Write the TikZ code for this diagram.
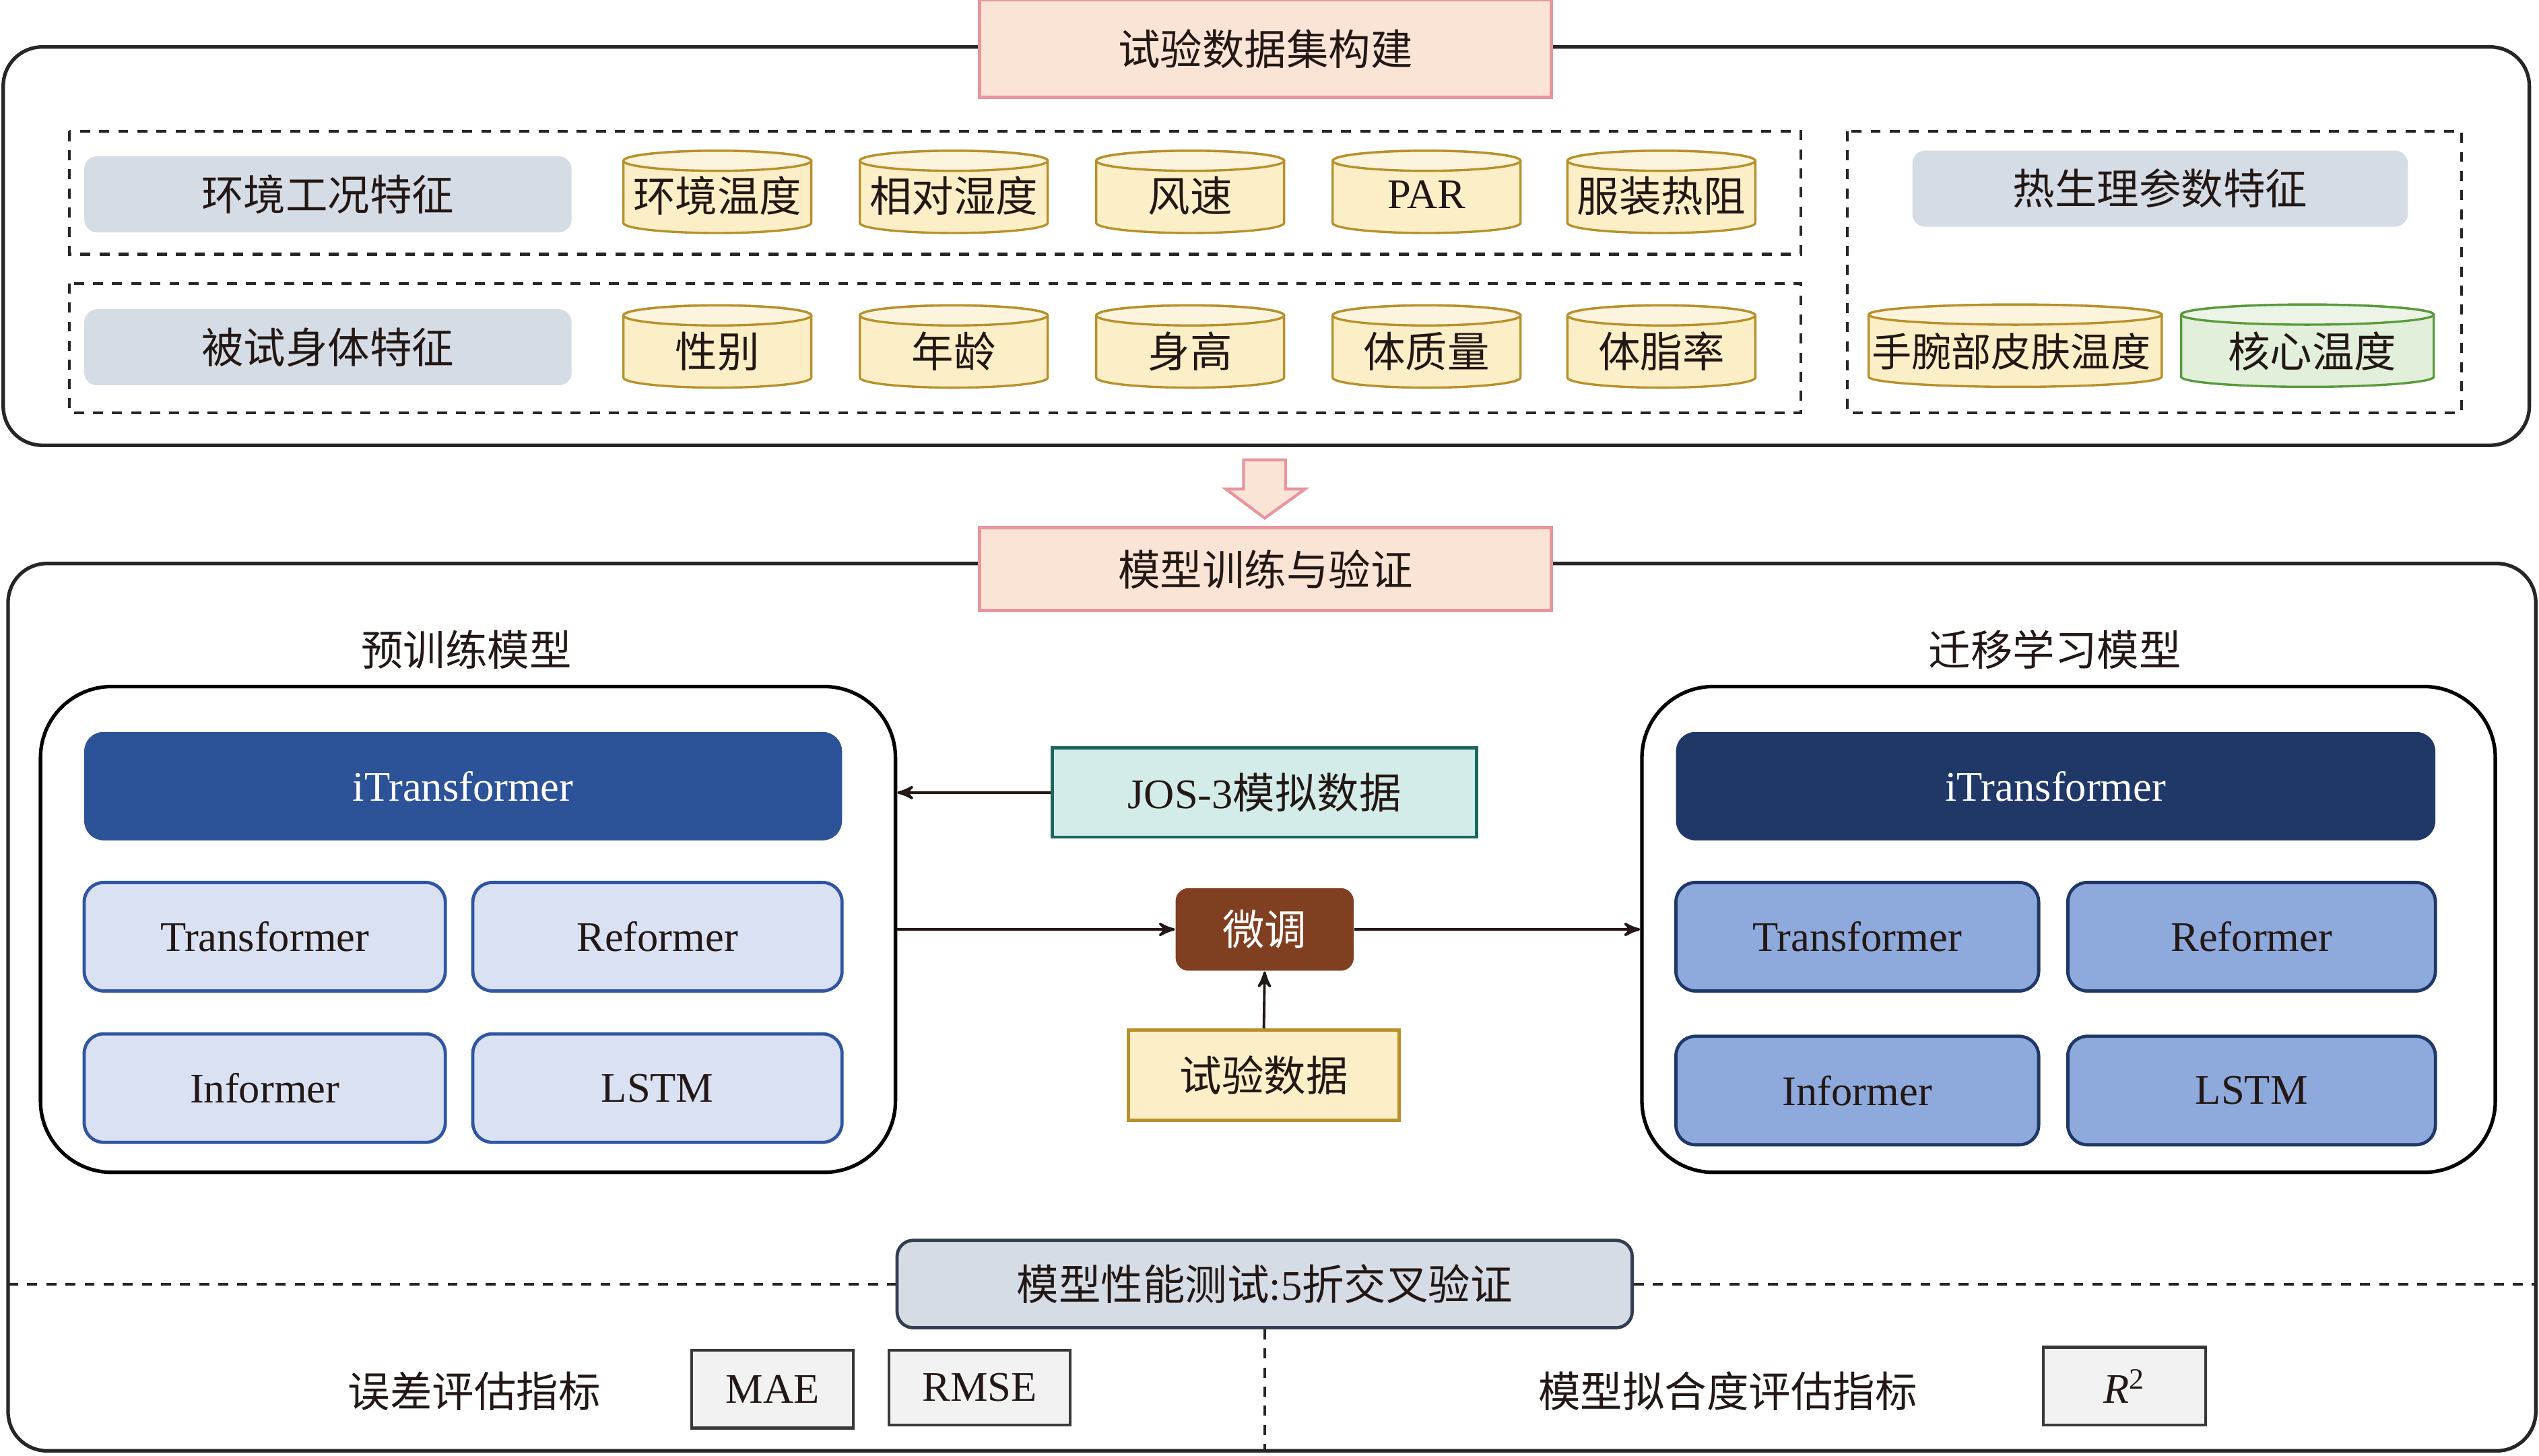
\documentclass[tikz,border=0pt]{standalone}
\usepackage{fontspec}
\setmainfont{Liberation Serif}
\newfontfamily\zh{Noto Sans CJK SC}
\usetikzlibrary{positioning,shapes,arrows}
\definecolor{ink}{HTML}{231815}
\definecolor{framec}{HTML}{262626}
\definecolor{pinkbg}{HTML}{FAE4D6}
\definecolor{pinkln}{HTML}{E8959E}
\definecolor{grayfill}{HTML}{D6DCE5}
\definecolor{drumbody}{HTML}{FCEFC8}
\definecolor{drumtop}{HTML}{FDF4DE}
\definecolor{gold}{HTML}{B8902A}
\definecolor{greenbody}{HTML}{E2EFDA}
\definecolor{greentop}{HTML}{EBF4E6}
\definecolor{greenln}{HTML}{5A9A3C}
\definecolor{blueA}{HTML}{2C5297}
\definecolor{navy}{HTML}{1F3868}
\definecolor{paleblue}{HTML}{DAE1F3}
\definecolor{blueln}{HTML}{2F55A3}
\definecolor{midblue}{HTML}{8EA9DB}
\definecolor{tealbg}{HTML}{D4ECE9}
\definecolor{tealln}{HTML}{1B675B}
\definecolor{rust}{HTML}{7F3F20}
\definecolor{slate}{HTML}{333F50}
\definecolor{metricbg}{HTML}{F2F2F2}
\definecolor{metricln}{HTML}{3B3838}
\newcommand\drum[5]{%
  \begin{scope}[shift={#1}]
    \filldraw[draw=#3,fill=#4,line width=0.7pt] (-#2,9.6pt) -- (-#2,-9.6pt)
      arc[start angle=180,end angle=360,x radius=#2,y radius=3.1pt] -- (#2,9.6pt)
      arc[start angle=0,end angle=180,x radius=#2,y radius=3.1pt] -- cycle;
    \filldraw[draw=#3,fill=#5,line width=0.7pt] (0pt,9.6pt) ellipse[x radius=#2,y radius=3.1pt];
  \end{scope}}
\begin{document}
\begin{tikzpicture}[x=0.5pt,y=-0.5pt]
  \tikzstyle{every node}=[font=\fontsize{13}{15}\selectfont,text=ink,inner sep=0]
  \tikzstyle{cn}=[font=\fontsize{13}{15}\selectfont\zh]
  \tikzstyle{frame}=[draw=framec,line width=1.1pt,rounded corners=12pt]
  \tikzstyle{title}=[draw=pinkln,fill=pinkbg,line width=1pt,minimum width=176.5pt,minimum height=30pt]
  \tikzstyle{dashbox}=[draw=framec,line width=0.85pt,dash pattern=on 3.1pt off 2.8pt]
  \tikzstyle{feat}=[fill=grayfill,rounded corners=4pt,minimum width=150.5pt,minimum height=23.5pt]
  \tikzstyle{holder}=[draw=black,line width=1.1pt,rounded corners=22pt,minimum width=264pt,minimum height=150pt]
  \tikzstyle{big}=[rounded corners=6pt,minimum width=234pt,minimum height=33.5pt,text=white]
  \tikzstyle{small}=[rounded corners=6pt,line width=1pt,minimum width=111.5pt,minimum height=33.5pt]
  \tikzstyle{metric}=[draw=metricln,fill=metricbg,line width=0.9pt,minimum width=50pt,minimum height=24pt]
  \tikzstyle{link}=[->,>=stealth',line width=0.8pt,draw=ink]
  \useasboundingbox (0,0) rectangle (1568,899);

  \draw[frame] (2,29) rectangle (1562,275);
  \node[title,cn] (build) at (781.5,30) {试验数据集构建};

  \draw[dashbox] (43,81) rectangle (1112,157);
  \draw[dashbox] (43,175) rectangle (1112,255);
  \draw[dashbox] (1141,81) rectangle (1520,255);

  \node[feat,cn] (env) at (202.5,120) {环境工况特征};
  \node[feat,cn] (body) at (202.5,214.5) {被试身体特征};
  \node[feat,cn,minimum width=153pt] (phys) at (1334,116.5) {热生理参数特征};

  \drum{(443,118.5)}{29pt}{gold}{drumbody}{drumtop}
  \node[cn] (ta) at (443,121) {环境温度};
  \drum{(589,118.5)}{29pt}{gold}{drumbody}{drumtop}
  \node[cn] (rh) at (589,121) {相对湿度};
  \drum{(735,118.5)}{29pt}{gold}{drumbody}{drumtop}
  \node[cn] (ws) at (735,121) {风速};
  \drum{(881,118.5)}{29pt}{gold}{drumbody}{drumtop}
  \node (par) at (881,120) {PAR};
  \drum{(1026,118.5)}{29pt}{gold}{drumbody}{drumtop}
  \node[cn] (clo) at (1026,121) {服装热阻};

  \drum{(443,214)}{29pt}{gold}{drumbody}{drumtop}
  \node[cn] (sex) at (443,217) {性别};
  \drum{(589,214)}{29pt}{gold}{drumbody}{drumtop}
  \node[cn] (age) at (589,217) {年龄};
  \drum{(735,214)}{29pt}{gold}{drumbody}{drumtop}
  \node[cn] (ht) at (735,217) {身高};
  \drum{(881,214)}{29pt}{gold}{drumbody}{drumtop}
  \node[cn] (wt) at (881,217) {体质量};
  \drum{(1026,214)}{29pt}{gold}{drumbody}{drumtop}
  \node[cn] (fat) at (1026,217) {体脂率};

  \drum{(1244.5,213.5)}{45.25pt}{gold}{drumbody}{drumtop}
  \node[font=\fontsize{12.3}{14}\selectfont\zh] (skin) at (1242,217) {手腕部皮肤温度};
  \drum{(1425,213.5)}{39pt}{greenln}{greenbody}{greentop}
  \node[cn] (core) at (1428,217) {核心温度};

  \draw[draw=pinkln,fill=pinkbg,line width=0.9pt] (768,284) -- (794,284) -- (794,302) -- (806,302)
       -- (781,320) -- (757,302) -- (768,302) -- cycle;

  \draw[frame] (5,348) rectangle (1566,896);
  \node[title,cn,minimum height=25.5pt] (train) at (781.5,351.5) {模型训练与验证};

  \node[cn] (prelbl) at (288,401) {预训练模型};
  \node[cn] (postlbl) at (1269,401) {迁移学习模型};

  \node[holder] (pre) at (289,574) {};
  \node[holder,minimum width=263.5pt] (post) at (1277.5,574) {};

  \node[big,fill=blueA] (pit) at (286,485.5) {iTransformer};
  \node[small,draw=blueln,fill=paleblue] (ptr) at (163.5,578.5) {Transformer};
  \node[small,draw=blueln,fill=paleblue,minimum width=114pt] (pre2) at (406,578.5) {Reformer};
  \node[small,draw=blueln,fill=paleblue] (pinf) at (163.5,672) {Informer};
  \node[small,draw=blueln,fill=paleblue,minimum width=114pt] (plstm) at (406,672) {LSTM};

  \node[big,fill=navy,minimum width=234.5pt] (tit) at (1269.5,485.5) {iTransformer};
  \node[small,draw=navy,fill=midblue,minimum width=112pt] (ttr) at (1147,578.5) {Transformer};
  \node[small,draw=navy,fill=midblue,minimum width=113.5pt] (tre) at (1390.5,578.5) {Reformer};
  \node[small,draw=navy,fill=midblue,minimum width=112pt] (tinf) at (1147,673.5) {Informer};
  \node[small,draw=navy,fill=midblue,minimum width=113.5pt] (tlstm) at (1390.5,673.5) {LSTM};

  \node[draw=tealln,fill=tealbg,line width=1pt,minimum width=131pt,minimum height=27.5pt] (jos) at (781,489.5) {JOS-3{\zh 模拟数据}};
  \node[cn,fill=rust,text=white,rounded corners=4pt,minimum width=55pt,minimum height=25.5pt] (tune) at (781,574) {微调};
  \node[cn,draw=gold,fill=drumbody,line width=1pt,minimum width=83.5pt,minimum height=28pt] (exp) at (780.5,664) {试验数据};

  \draw[link] (jos.west) -- (jos.west -| pre.east);
  \draw[link] (pre.east) -- (tune.west);
  \draw[link] (tune.east) -- (post.west);
  \draw[link] (exp.north) -- (tune.south);

  \node[draw=slate,fill=grayfill,line width=1pt,rounded corners=5pt,minimum width=227pt,minimum height=27pt] (cv) at (781,793)
       {{\zh 模型性能测试}:5{\zh 折交叉验证}};
  \draw[dashbox] (5,793) -- (cv.west);
  \draw[dashbox] (cv.east) -- (1566,793);
  \draw[dashbox] (cv.south) -- (781,896);

  \node[cn] (errlbl) at (293,859) {误差评估指标};
  \node[metric] (mae) at (477,858) {MAE};
  \node[metric,minimum width=56pt,minimum height=23pt] (rmse) at (605,857) {RMSE};
  \node[cn] (fitlbl) at (1067,859) {模型拟合度评估指标};
  \node[metric] (r2) at (1312,856) {{\itshape R}\textsuperscript{2}};
\end{tikzpicture}
\end{document}
